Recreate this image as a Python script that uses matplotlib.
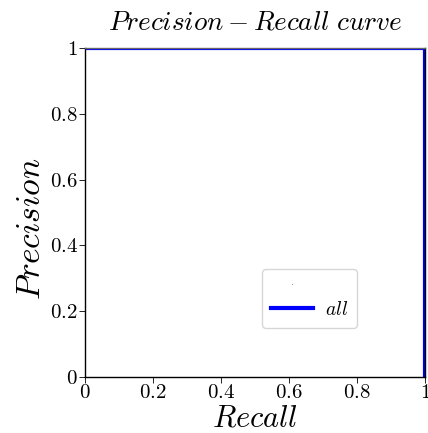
import matplotlib
matplotlib.use('Agg')
import matplotlib.pyplot as plt
from matplotlib.ticker import FuncFormatter

plt.rcParams['mathtext.fontset'] = 'cm'
plt.rcParams['font.family'] = 'serif'
plt.rcParams['font.serif'] = ['cmr10', 'DejaVu Serif']
plt.rcParams['axes.formatter.use_mathtext'] = True

# PR curve values
recall = [0.0, 1.0, 1.0]
precision = [1.0, 1.0, 0.0]
ticks = [0, 0.2, 0.4, 0.6, 0.8, 1]


def main():
    fig = plt.figure(figsize=(4.28, 4.33), dpi=100)
    ax = fig.add_axes([85 / 428, 56 / 433, 340 / 428, 329 / 433])
    ax.plot([], [], ',', color='#7a9cc0', label=' ')
    ax.plot(recall, precision, color='#0000ff', lw=3, label='$all$')
    ax.set_xlim(0, 1)
    ax.set_ylim(0, 1)
    ax.set_xticks(ticks)
    ax.set_yticks(ticks)
    fmt = FuncFormatter(lambda v, p: '$%g$' % v)
    ax.xaxis.set_major_formatter(fmt)
    ax.yaxis.set_major_formatter(fmt)
    ax.tick_params(labelsize=15, length=4, width=0.6, pad=1)
    ax.spines['top'].set_color('0.4')
    for s in ax.spines.values():
        s.set_linewidth(1.0)
    ax.set_title(r'$Precision - Recall\ curve$', fontsize=19.5, pad=13)
    ax.set_xlabel('$Recall$', fontsize=22, labelpad=2)
    ax.set_ylabel('$Precision$', fontsize=24)
    ax.yaxis.set_label_coords(-0.115, 0.45)
    ax.legend(loc='lower left', bbox_to_anchor=(0.52, 0.149),
              borderaxespad=0, fontsize=14, handlelength=2.2,
              handletextpad=0.6, labelspacing=0.3, borderpad=0.45,
              fancybox=True, framealpha=0.8)
    fig.savefig('out.png', dpi=100)


if __name__ == '__main__':
    main()
